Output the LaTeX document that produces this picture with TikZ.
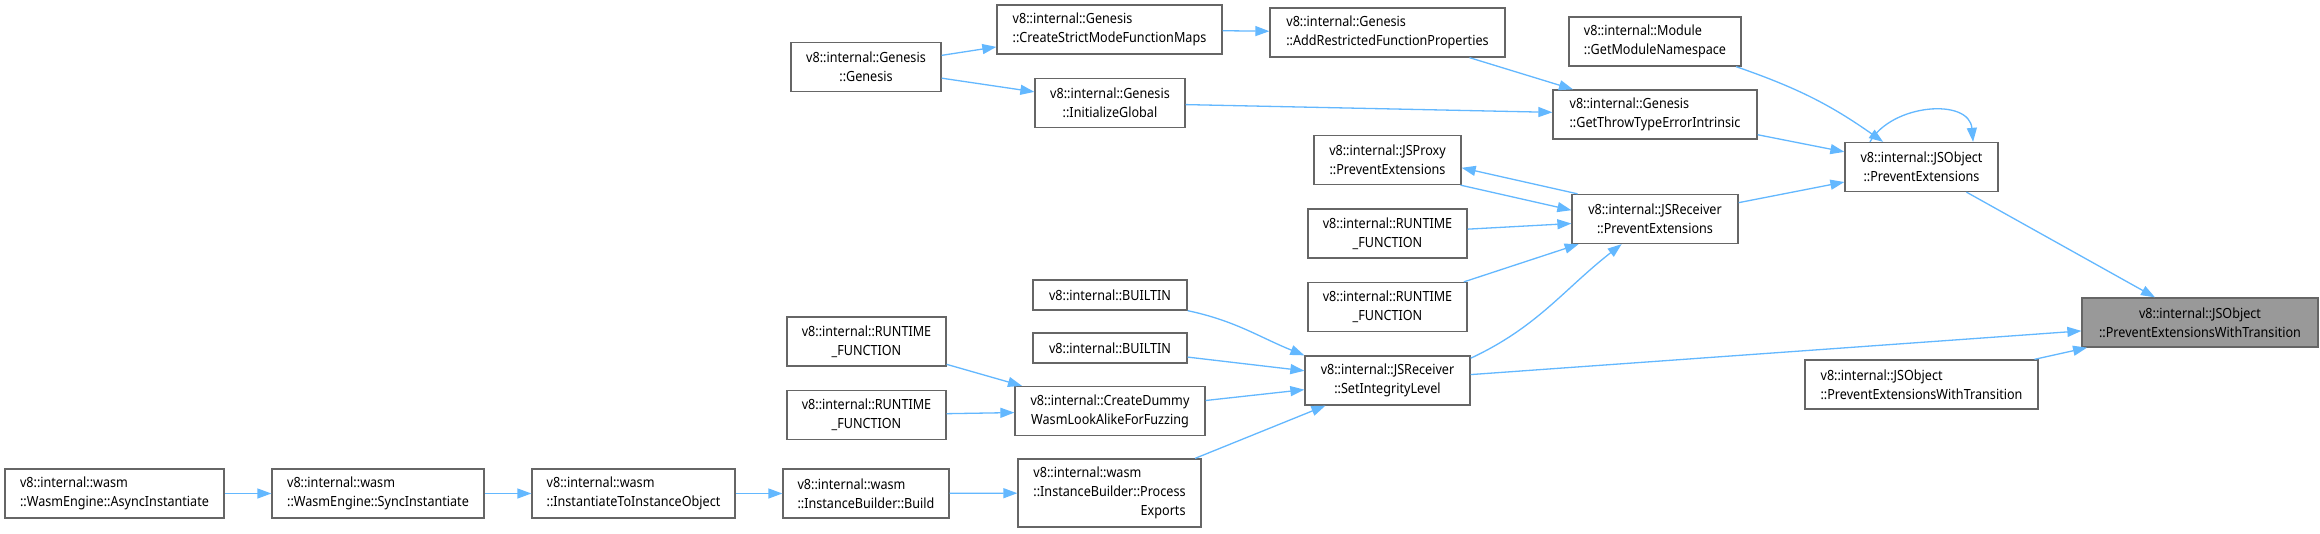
\documentclass[tikz,border=0pt]{standalone}
\usepackage{fontspec}
\setmainfont[FakeStretch=0.9]{Noto Sans}
\definecolor{edgeblue}{RGB}{99,184,255}
\definecolor{boxgrey}{RGB}{102,102,102}
\definecolor{curgrey}{RGB}{153,153,153}
\usetikzlibrary{arrows.meta,positioning,calc}

\begin{document}
\begin{tikzpicture}[x=1pt, y=-1pt,
  fnode/.style={rectangle, draw=boxgrey, line width=1.3pt, fill=white,
                inner xsep=0pt, inner ysep=0pt, minimum height=49pt,
                font=\fontsize{14}{19}\selectfont, align=center},
  lnode/.style={fnode, align=left},
  cnode/.style={fnode, fill=curgrey},
  carr/.style={-{Triangle[length=14pt, width=10pt]}, draw=edgeblue, line width=1.3pt}
]
\useasboundingbox[fill=white] (0,0) rectangle (2320,533);

% wasm chain
\node[lnode, minimum width=219pt] (async)    at (114.5,493.5) {v8::internal::wasm\\::WasmEngine::AsyncInstantiate};
\node[lnode, minimum width=212pt] (sync)     at (378,493.5)   {v8::internal::wasm\\::WasmEngine::SyncInstantiate};
\node[lnode, minimum width=203pt] (inst2obj) at (633.5,493.5) {v8::internal::wasm\\::InstantiateToInstanceObject};
\node[lnode, minimum width=166pt] (build)    at (866,493.5)   {v8::internal::wasm\\::InstanceBuilder::Build};
\node[lnode, minimum width=183pt, minimum height=68pt] (procexp) at (1109.5,493) {v8::internal::wasm\\::InstanceBuilder::Process\\\hfill Exports\hfill};

% fuzzing / builtins
\node[fnode, minimum width=159pt] (rtleft1)  at (866.5,341.5) {v8::internal::RUNTIME\\\_FUNCTION};
\node[fnode, minimum width=159pt] (rtleft2)  at (866.5,415)   {v8::internal::RUNTIME\\\_FUNCTION};
\node[fnode, minimum width=190pt] (dummy)    at (1110,411)    {v8::internal::CreateDummy\\WasmLookAlikeForFuzzing};
\node[fnode, minimum width=154pt, minimum height=30pt] (builtin1) at (1110,295) {v8::internal::BUILTIN};
\node[fnode, minimum width=154pt, minimum height=30pt] (builtin2) at (1110,348) {v8::internal::BUILTIN};

% receivers
\node[fnode, minimum width=165pt] (setint)   at (1387.5,380.5) {v8::internal::JSReceiver\\::SetIntegrityLevel};
\node[fnode, minimum width=159pt] (rtmid2)   at (1387.5,307)   {v8::internal::RUNTIME\\\_FUNCTION};
\node[fnode, minimum width=159pt] (rtmid1)   at (1387.5,233.5) {v8::internal::RUNTIME\\\_FUNCTION};
\node[fnode, minimum width=147pt] (jsproxy)  at (1387.5,160)   {v8::internal::JSProxy\\::PreventExtensions};
\node[fnode, minimum width=166pt] (recvpe)   at (1655,219)     {v8::internal::JSReceiver\\::PreventExtensions};

% genesis
\node[fnode, minimum width=150pt] (genesis)  at (866,67)       {v8::internal::Genesis\\::Genesis};
\node[lnode, minimum width=225pt] (strict)   at (1109.5,29.5)  {v8::internal::Genesis\\::CreateStrictModeFunctionMaps};
\node[lnode, minimum width=235pt] (addrestr) at (1387.5,32.5)  {v8::internal::Genesis\\::AddRestrictedFunctionProperties};
\node[fnode, minimum width=150pt] (initglob) at (1110,103)     {v8::internal::Genesis\\::InitializeGlobal};
\node[lnode, minimum width=204pt] (throwerr) at (1655,114.5)   {v8::internal::Genesis\\::GetThrowTypeErrorIntrinsic};
\node[lnode, minimum width=172pt] (module)   at (1655,41.5)    {v8::internal::Module\\::GetModuleNamespace};

% objects
\node[fnode, minimum width=153pt] (objpe)    at (1921.5,167)   {v8::internal::JSObject\\::PreventExtensions};
\node[lnode, minimum width=233pt] (objpewt)  at (1921.5,384.5) {v8::internal::JSObject\\::PreventExtensionsWithTransition};
\node[lnode, cnode, minimum width=236pt] (target) at (2200,322.5) {v8::internal::JSObject\\::PreventExtensionsWithTransition};

% edges
\draw[carr] (async) -- (sync);
\draw[carr] (sync) -- (inst2obj);
\draw[carr] (inst2obj) -- (build);
\draw[carr] (build) -- (procexp);
\draw[carr] (procexp) -- (setint);
\draw[carr] (rtleft1) -- (dummy);
\draw[carr] (rtleft2) -- (dummy);
\draw[carr] (dummy) -- (setint);
\draw[carr] (builtin1.south east) to[out=-12, in=158] (setint.north west);
\draw[carr] (builtin2) -- (setint);
\draw[carr] (setint.15) to[out=25, in=218] (recvpe.217);
\draw[carr] (setint) -- (target);
\draw[carr] (rtmid2) -- (recvpe);
\draw[carr] (rtmid1) -- (recvpe);
\draw[carr] (jsproxy.341) -- (recvpe.174);
\draw[carr] (recvpe.162) -- (jsproxy.354);
\draw[carr] (recvpe) -- (objpe);
\draw[carr] (genesis) -- (strict);
\draw[carr] (genesis) -- (initglob);
\draw[carr] (strict) -- (addrestr);
\draw[carr] (addrestr) -- (throwerr);
\draw[carr] (initglob) -- (throwerr);
\draw[carr] (throwerr) -- (objpe);
\draw[carr] (module) to[bend left=8] (objpe);
\draw[carr] (objpe.154) to[out=60, in=95, looseness=1.1] (objpe.26);
\draw[carr] (objpe) -- (target);
\draw[carr] (objpewt) -- (target);
\end{tikzpicture}
\end{document}
